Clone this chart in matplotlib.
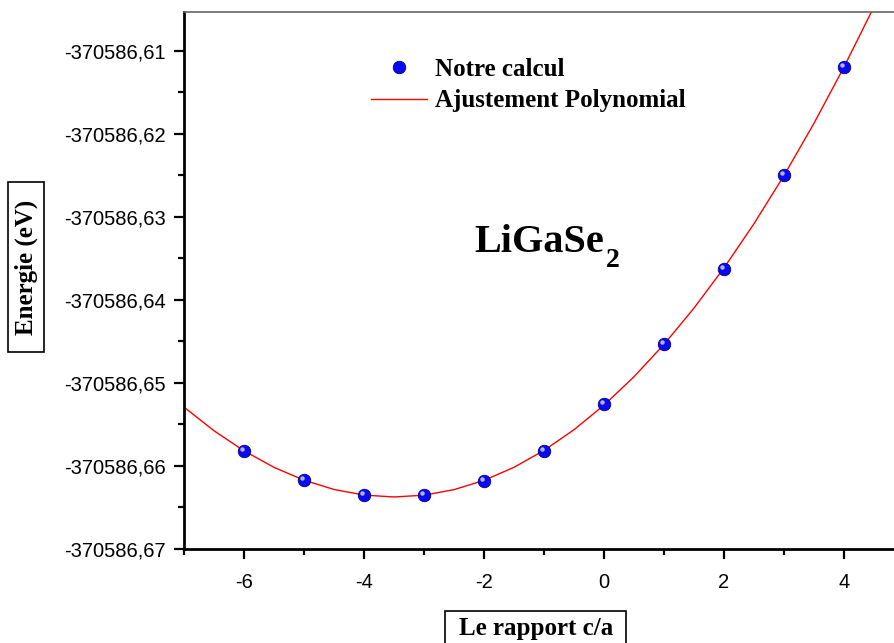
import matplotlib.pyplot as plt
import matplotlib.transforms as mtransforms
from matplotlib.patches import Rectangle
from matplotlib.ticker import MultipleLocator, FuncFormatter
import numpy as np

# c/a ratio steps and total energies (eV)
ratio = [-6, -5, -4, -3, -2, -1, 0, 1, 2, 3, 4]
energy = [
    -370586.65819, -370586.66169, -370586.66349, -370586.66349,
    -370586.66181, -370586.65819, -370586.65253, -370586.64530,
    -370586.63627, -370586.62494, -370586.61193,
]
xticks = [-6, -4, -2, 0, 2, 4]
yticks = [-370586.67, -370586.66, -370586.65, -370586.64,
          -370586.63, -370586.62, -370586.61]

serif = ['Liberation Serif', 'DejaVu Serif']
sans = ['Liberation Sans', 'DejaVu Sans']

W, H = 895, 643
fig = plt.figure(figsize=(W / 100, H / 100), dpi=100)

# axes box in pixels: left 184, bottom 549 (from top), top 12, right past the edge
left, right, top, bottom = 184, 900, 12, 549
ax = fig.add_axes([left / W, (H - bottom) / H, (right - left) / W, (bottom - top) / H])

# polynomial fit of the computed energies
x = np.array(ratio, dtype=float)
e0 = -370586.67
coef = np.polyfit(x, np.array(energy) - e0, 3)
xfit = np.linspace(-7, 5, 25)
ax.plot(xfit, np.polyval(coef, xfit) + e0, color='red', lw=1.0, zorder=2,
        label='Ajustement Polynomial')

# shaded ball markers: blue body + small highlight
ax.plot(ratio, energy, 'o', ms=9, color='#0a0aee', mec='#00008b', mew=0.6,
        zorder=3, label='Notre calcul')
hl = mtransforms.offset_copy(ax.transData, fig=fig, x=-1.6, y=1.6, units='points')
ax.plot(ratio, energy, 'o', ms=3.2, color='#c8c8ff', mew=0, alpha=0.9,
        transform=hl, zorder=4)

ax.set_xlim(-7, (right - 604) / 60)
ax.set_ylim(yticks[0] - 1e-7, yticks[0] + (bottom - top) / 8300)

ax.set_xticks(xticks)
ax.set_yticks(yticks)
ax.xaxis.set_minor_locator(MultipleLocator(1))
ax.yaxis.set_minor_locator(MultipleLocator(0.005))
ax.yaxis.set_major_formatter(FuncFormatter(lambda v, p: f'{v:.2f}'.replace('.', ',')))
ax.xaxis.set_major_formatter(FuncFormatter(lambda v, p: f'{v:.0f}'))

ax.tick_params(which='major', direction='out', length=7, width=1.6,
               labelsize=14.5, pad=6)
ax.tick_params(which='minor', direction='out', length=4, width=1.6)
ax.tick_params(axis='x', which='major', pad=10)
for lab in ax.get_xticklabels() + ax.get_yticklabels():
    lab.set_family(sans)

ax.spines['left'].set_linewidth(2)
ax.spines['bottom'].set_linewidth(2)
ax.spines['top'].set_color('#666666')
ax.spines['top'].set_linewidth(1.2)
ax.spines['right'].set_visible(False)

leg = ax.legend(handles=ax.lines[1::-1], loc='upper left',
                bbox_to_anchor=((375 - 4) / W, (H - 58) / H),
                bbox_transform=fig.transFigure, frameon=False,
                prop={'family': serif, 'weight': 'bold', 'size': 18},
                handlelength=2.25, handletextpad=0.3, labelspacing=0.33,
                borderpad=0, borderaxespad=0, numpoints=1)

# compound name with a dropped subscript
ax.text(474 / W, (H - 252) / H, 'LiGaSe', transform=fig.transFigure,
        fontsize=29, fontweight='bold', family=serif, va='baseline', ha='left')
ax.text(606 / W, (H - 267) / H, '2', transform=fig.transFigure,
        fontsize=20, fontweight='bold', family=serif, va='baseline', ha='left')

# boxed axis titles
fig.text(26 / W, (H - 267) / H, 'Energie (eV)', rotation=90, ha='center', va='center',
         fontsize=18, fontweight='bold', family=serif)
fig.patches.append(Rectangle((8 / W, (H - 352) / H), 36 / W, 170 / H,
                             transform=fig.transFigure, fill=False, ec='black', lw=1.2))
fig.text(536 / W, (H - 628) / H, 'Le rapport c/a', ha='center', va='center',
         fontsize=18, fontweight='bold', family=serif)
fig.patches.append(Rectangle((445 / W, -5 / H), 181 / W, (643 - 611 + 5) / H,
                             transform=fig.transFigure, fill=False, ec='black', lw=1.2))

fig.savefig('out.png', dpi=100)
